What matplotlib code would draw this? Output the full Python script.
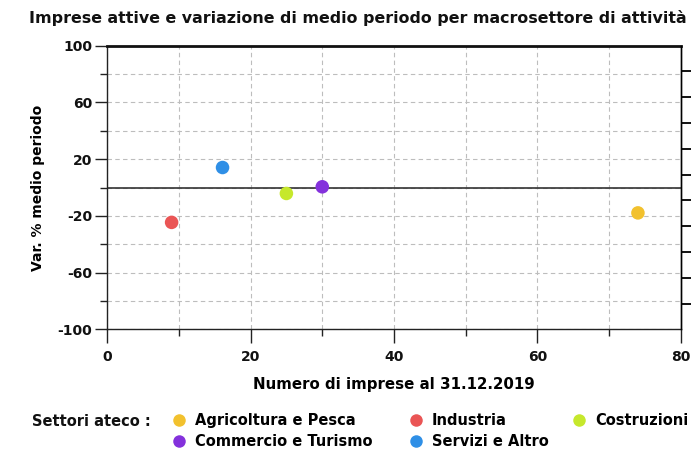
import matplotlib
matplotlib.use("Agg")
import matplotlib.pyplot as plt
from matplotlib.lines import Line2D
from matplotlib.ticker import MultipleLocator

# Data
settori = ["Agricoltura e Pesca", "Industria", "Costruzioni",
           "Commercio e Turismo", "Servizi e Altro"]
num_imprese = [74.0, 9.0, 25.0, 30.0, 16.1]
var_medio = [-17.9, -24.6, -4.2, 0.5, 14.1]
colori = ["#f2c12e", "#ea5555", "#c6e82c", "#8431dc", "#2f8fe6"]

x_ticks = [0, 20, 40, 60, 80]
y_ticks = [100, 60, 20, -20, -60, -100]

plt.rcParams['font.family'] = ['DejaVu Sans']
plt.rcParams['font.weight'] = 'bold'
plt.rcParams['axes.unicode_minus'] = False

fig = plt.figure(figsize=(6.91, 4.51), dpi=100)
ax = fig.add_axes([0.1549, 0.2698, 0.8306, 0.6289])

ax.set_xlim(0, 80)
ax.set_ylim(-100, 100)

# grid
ax.xaxis.set_minor_locator(MultipleLocator(10))
ax.yaxis.set_minor_locator(MultipleLocator(20))
ax.set_xticks(x_ticks)
ax.set_yticks(y_ticks)
ax.grid(True, which='both', color='#bdbdbd', linestyle=(0, (4, 3)), linewidth=0.8)
ax.set_axisbelow(True)
ax.axhline(0, color='#333333', linewidth=1.2, zorder=2)

ax.scatter(num_imprese, var_medio, s=95, c=colori, zorder=3, edgecolors='none')

# spines & ticks
for side in ['left', 'bottom', 'right']:
    ax.spines[side].set_color('#222222')
    ax.spines[side].set_linewidth(1.0)
ax.spines['top'].set_color('#111111')
ax.spines['top'].set_linewidth(2.0)
ax.tick_params(axis='both', which='both', width=1.0, color='#222222',
               labelsize=10, labelcolor='#111111')
ax.tick_params(axis='x', which='major', length=10, pad=5)
ax.tick_params(axis='x', which='minor', length=5)
ax.tick_params(axis='y', which='major', length=8.5, pad=2)
ax.tick_params(axis='y', which='minor', length=5)

# secondary right ticks (labels fall outside the image)
ax2 = ax.twinx()
ax2.set_ylim(0, 11)
ax2.set_yticks(range(1, 11))
ax2.set_yticklabels([])
ax2.tick_params(axis='y', length=10, width=1.4, color='#111111')
for side in ['left', 'bottom', 'top']:
    ax2.spines[side].set_visible(False)
ax2.spines['right'].set_linewidth(1.0)

ax.set_xlabel("Numero di imprese al 31.12.2019", fontsize=10.8, fontweight='bold',
              labelpad=9)
ax.set_ylabel("Var. % medio periodo", fontsize=10, fontweight='bold', labelpad=9)

fig.text(0.518, 0.960, "Imprese attive e variazione di medio periodo per macrosettore di attività",
         ha='center', va='center', fontsize=11.4, fontweight='bold', color='#111111')

# legend, laid out as in the reference (row-major, three columns)
fig.text(0.046, 0.066, "Settori ateco :", ha='left', va='center', fontsize=10.5,
         fontweight='bold', color='#111111')

def make_handle(i):
    return Line2D([], [], marker='o', linestyle='none', markersize=9,
                  markerfacecolor=colori[i], markeredgecolor='none')

colonne = [[0, 3], [1, 4], [2]]
col_x = [0.248, 0.591, 0.827]
for cx, idx in zip(col_x, colonne):
    leg = fig.legend([make_handle(i) for i in idx], [settori[i] for i in idx],
                     loc='upper left', bbox_to_anchor=(cx, 0.084), frameon=False,
                     fontsize=10.5, handlelength=1.0, handletextpad=0.6,
                     labelspacing=0.42, borderpad=0.0, borderaxespad=0.0)
    for t in leg.get_texts():
        t.set_fontweight('bold')

fig.savefig("out.png", dpi=100)
